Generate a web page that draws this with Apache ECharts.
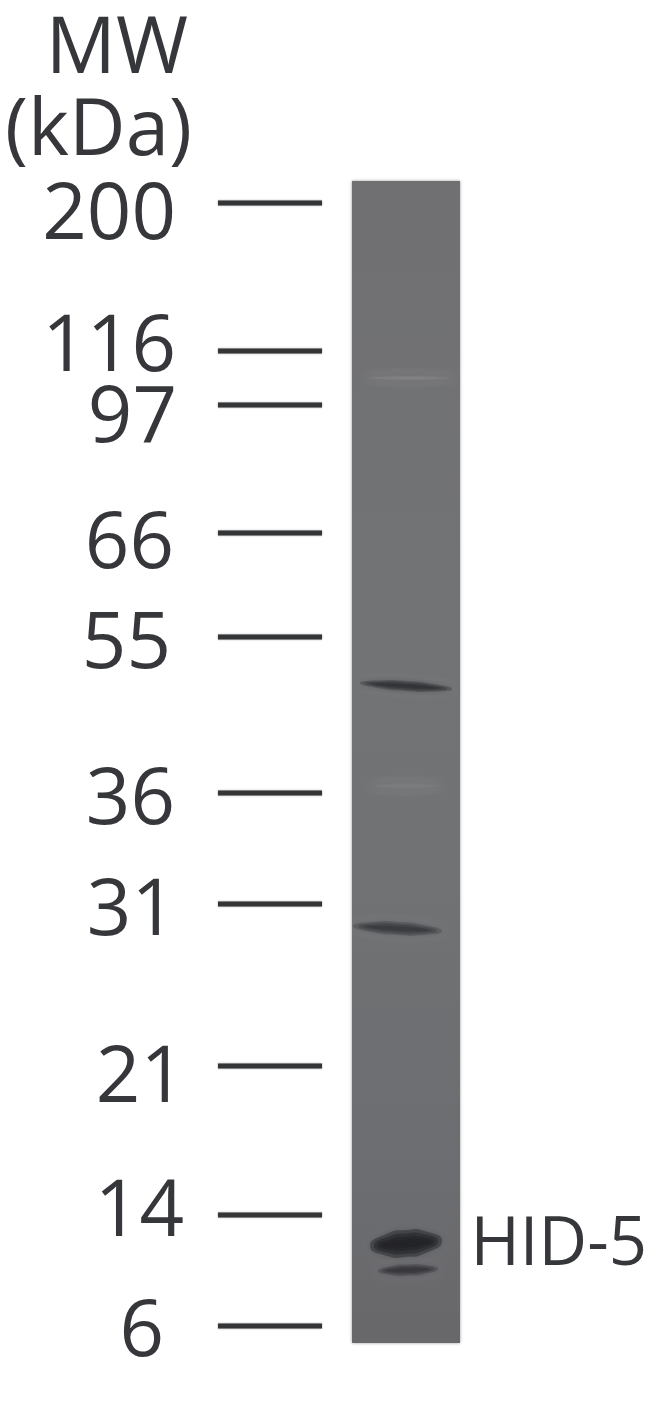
<!DOCTYPE html>
<html><head><meta charset="utf-8">
<style>html,body{margin:0;padding:0;background:#fff}#c{width:650px;height:1428px}</style>
<script src="https://cdn.jsdelivr.net/npm/echarts@6/dist/echarts.min.js"></script>
</head><body><div id="c"></div>
<script>
// Marker ladder: size (kDa) and migration position (px from top of the image)
const markerLabels = ['200','116','97','66','55','36','31','21','14','6'];
const markerMigration = [203,351,405,533,637,793,904,1066,1215,1326];
const labelRight = [176,176,177,174,171,175,176,185,184,164];
const labelMiddle = [217,349,420,546,646,802,913,1080,1214,1334];
// Lane extent
const laneLeft = [352], laneRight = [460], laneTop = [181], laneBottom = [1343];
// Bands: x0, migration0, x1, migration1, thickness, darkness
const bandX0 = [366,372,360,353,370,378];
const bandM0 = [378,786,683,926,1246,1271];
const bandX1 = [452,440,452,442,442,438];
const bandM1 = [378,786,689,931,1241,1269];
const bandThick = [5,6,10,13,27,11];
const bandAlpha = [0.10,0.06,0.34,0.27,0.42,0.28];
const bandColor = ['#9a9a9c','#9a9a9c','#2a2c2e','#2c2e30','#1e2024','#2a2c2e'];
const titles = [['MW',188,51],['(kDa)',192,133]];
const protein = [['HID-5',647,1246]];

const font = '"Open Sans"';
const chart = echarts.init(document.getElementById('c'),null,{renderer:'canvas'});
const textSeries = (name,rows,size)=>({
  type:'custom',name,silent:true,z:5,clip:false,
  data:rows.map((r,i)=>[r[1],r[2],i]),
  renderItem:(p,api)=>{
    const a=api.coord([api.value(0),api.value(1)]);
    return {type:'text',style:{x:a[0],y:a[1],text:rows[api.value(2)][0],
      fontFamily:font,fontSize:size,fill:'#36373a',align:'right',verticalAlign:'middle',
      textAlign:'right',textVerticalAlign:'middle',
      shadowColor:'rgba(40,40,45,0.5)',shadowBlur:2}};
  }
});
chart.setOption({
  animation:false,backgroundColor:'#ffffff',
  grid:{left:0,right:0,top:0,bottom:0},
  xAxis:{type:'value',min:0,max:650,show:false},
  yAxis:{type:'value',min:0,max:1428,inverse:true,show:false},
  series:[
    {type:'custom',name:'lane',silent:true,z:1,
     data:[[laneLeft[0],laneTop[0],laneRight[0],laneBottom[0]]],
     renderItem:(p,api)=>{
       const a=api.coord([api.value(0),api.value(1)]),b=api.coord([api.value(2),api.value(3)]);
       return {type:'rect',shape:{x:a[0],y:a[1],width:b[0]-a[0],height:b[1]-a[1]},
         style:{fill:new echarts.graphic.LinearGradient(0,0,0,1,[
           {offset:0,color:'#707073'},{offset:0.35,color:'#727375'},{offset:0.6,color:'#707274'},
           {offset:0.85,color:'#6c6d70'},{offset:1,color:'#68686b'}]),
           shadowColor:'rgba(110,110,115,0.7)',shadowBlur:3}};
     }},
    {type:'custom',name:'bands',silent:true,z:2,
     data:bandX0.map((x,i)=>[x,bandM0[i],bandX1[i],bandM1[i],bandThick[i],bandAlpha[i],i]),
     renderItem:(p,api)=>{
       const a=api.coord([api.value(0),api.value(1)]),b=api.coord([api.value(2),api.value(3)]);
       const c=echarts.color.modifyAlpha(bandColor[api.value(6)],api.value(5));
       const layer=k=>{
         const t=api.value(4)/2*k, inset=(1-k)*0.22;
         const lerp=f=>{f=inset+(1-2*inset)*f;return [a[0]+(b[0]-a[0])*f,a[1]+(b[1]-a[1])*f];};
         const e0=lerp(0),e1=lerp(1),m1=lerp(.25),m2=lerp(.5),m3=lerp(.75);
         return {type:'polygon',shape:{smooth:0.6,points:[e0,
           [m1[0],m1[1]-t*.85],[m2[0],m2[1]-t],[m3[0],m3[1]-t*.85],e1,
           [m3[0],m3[1]+t*.85],[m2[0],m2[1]+t],[m1[0],m1[1]+t*.85]]},
           style:{fill:c,shadowColor:c,shadowBlur:6}};
       };
       return {type:'group',children:[layer(1),layer(0.75),layer(0.5),layer(0.28)]};
     }},
    {type:'scatter',name:'markers',silent:true,z:3,symbol:'rect',symbolSize:[104,5],
     itemStyle:{color:'#343537',opacity:1,shadowColor:'rgba(50,50,55,0.5)',shadowBlur:2},
     data:markerMigration.map(m=>[270,m])},
    textSeries('ladder labels',markerLabels.map((t,i)=>[t,labelRight[i],labelMiddle[i]]),78),
    textSeries('axis title',titles,78),
    textSeries('protein',protein,67)
  ]
});
</script></body></html>
